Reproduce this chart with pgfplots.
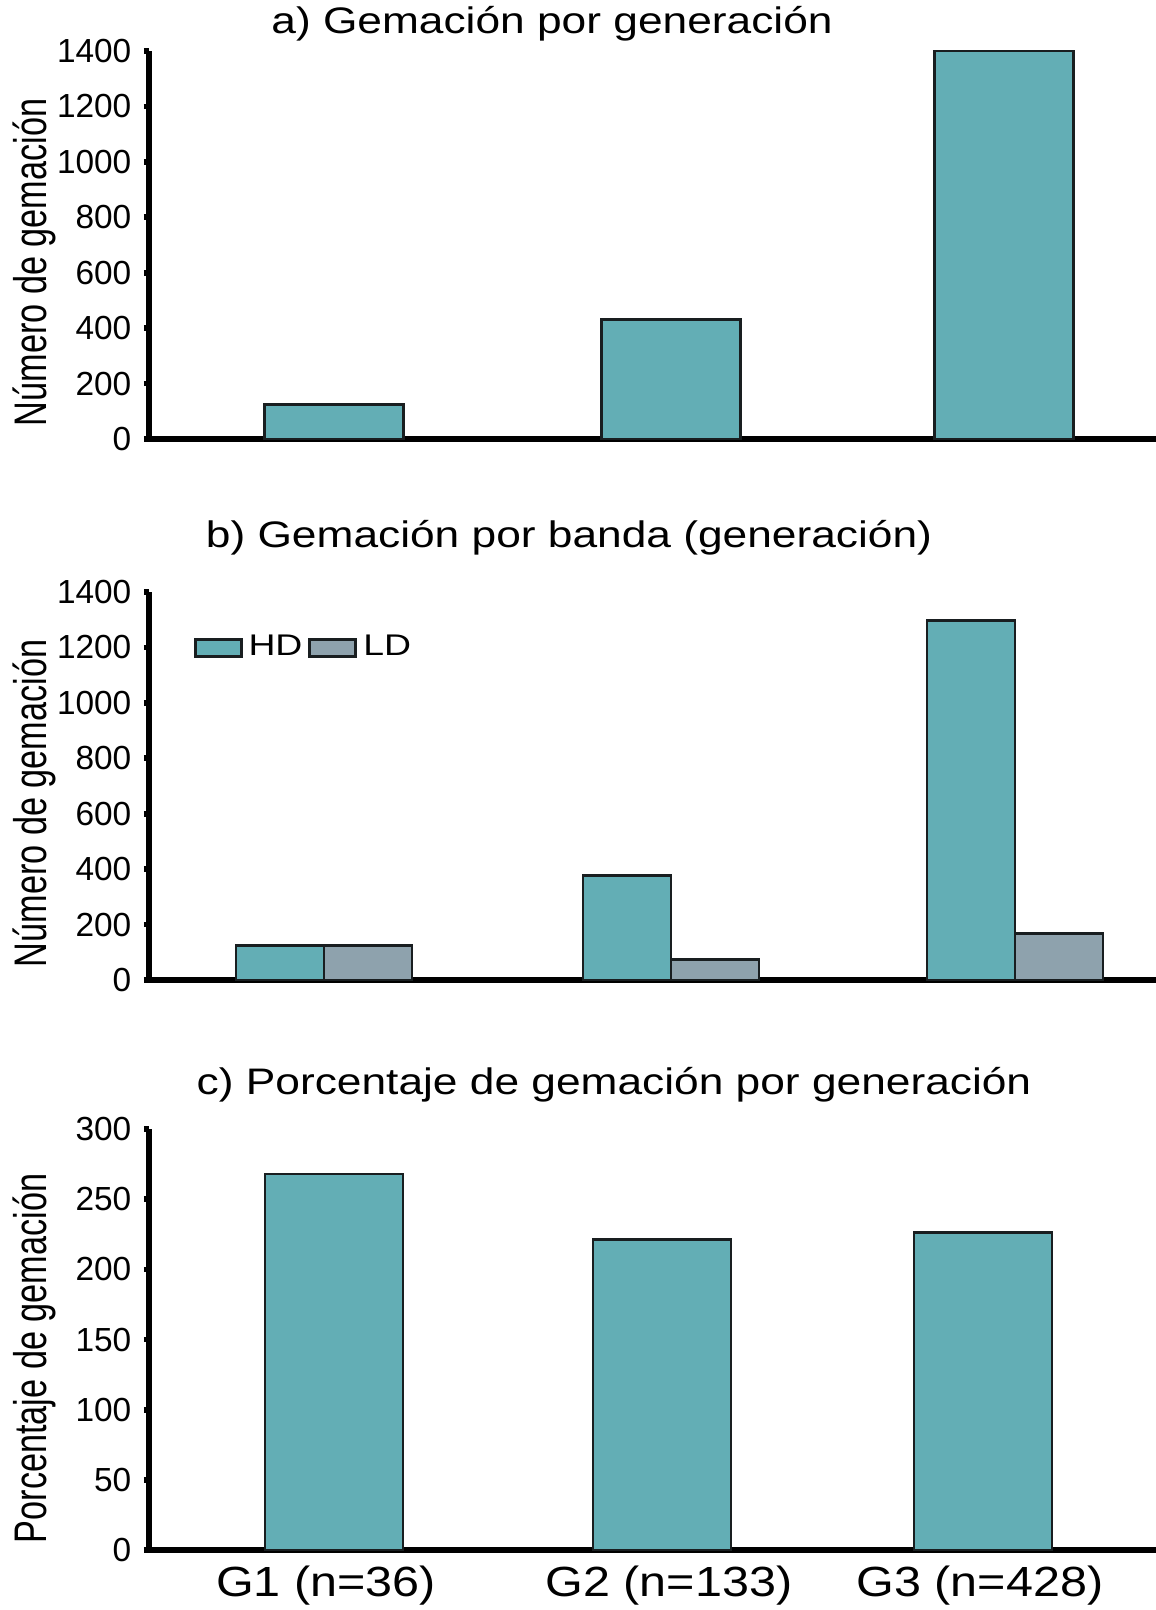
\documentclass[border=0pt]{standalone}
\usepackage{pgfplots}
\pgfplotsset{compat=1.18}
\usepackage{fontspec}
\setmainfont{Liberation Sans}
\newfontfamily\titlefont[FakeStretch=1.2]{Liberation Sans}
\newfontfamily\ylabfont[FakeStretch=0.75]{Liberation Sans}
\newfontfamily\legfont[FakeStretch=1.25]{Liberation Sans}
\newfontfamily\xlabfont[FakeStretch=1.15]{Liberation Sans}
\definecolor{tealc}{RGB}{99,174,181}
\definecolor{grayc}{RGB}{142,162,173}
\definecolor{edgec}{RGB}{25,30,32}

\pgfplotsset{
  panel/.style={
    scale only axis,
    width=10.07cm,
    xmin=149, xmax=1156,
    ymin=0,
    axis lines=left,
    axis line style={-, line width=1.7pt, black},
    tick align=outside,
    major tick length=0.05cm,
    tick style={line width=1.6pt, black},
    xtick=\empty,
    scaled y ticks=false,
    /pgf/number format/1000 sep={},
    /pgf/number format/assume math mode=true,
    yticklabel style={font=\fontsize{9.5}{11}\selectfont, inner sep=0pt, xshift=-0.12cm},
    every axis y label/.style={at={(axis description cs:-0.114,0.455)}, rotate=90, anchor=center, font=\ylabfont\fontsize{13}{15}\selectfont},
    clip=false,
  },
  barstyle/.style={draw=edgec, line width=0.8pt},
}

\begin{document}
\begin{tikzpicture}
\useasboundingbox (0,0) rectangle (11.56cm,-16.10cm);

% a)
\begin{axis}[panel, at={(1.49cm,-4.39cm)}, anchor=south west,
  height=3.88cm, ymax=1400, ytick={0,200,...,1400},
  ylabel={Número de gemación},
  ybar, bar width=1.39cm]
\addplot[barstyle, fill=tealc] coordinates {(334,125) (671,430) (1004,1400)};
\end{axis}

% b)
\begin{axis}[panel, at={(1.49cm,-9.80cm)}, anchor=south west,
  height=3.88cm, ymax=1400, ytick={0,200,...,1400},
  ylabel={Número de gemación},
  ybar=0pt, bar width=0.88cm,
  legend image code/.code={\draw[#1, line width=0.8pt] (0cm,-0.085cm) rectangle (0.46cm,0.085cm);},
  legend style={at={(axis cs:193,1198)}, anchor=west, draw=none, fill=none, inner sep=0pt,
    font=\legfont\fontsize{8.5}{9}\selectfont,
    legend columns=-1,
    nodes={inner sep=0.06cm},
    /tikz/every even column/.append style={column sep=0pt}},
  ]
\addplot[barstyle, fill=tealc] coordinates {(324,125) (671,378) (1015,1296)};
\addplot[barstyle, fill=grayc] coordinates {(324,125) (671,74) (1015,167)};
\legend{HD, LD}
\end{axis}

% c)
\begin{axis}[panel, at={(1.49cm,-15.50cm)}, anchor=south west,
  height=4.21cm, ymax=300, ytick={0,50,...,300},
  ylabel={Porcentaje de gemación},
  xtick={326,669,980},
  xticklabels={G1 (n=36), G2 (n=133), G3 (n=428)},
  major x tick style={draw=none},
  xticklabel style={font=\xlabfont\fontsize{12}{14}\selectfont, anchor=base, yshift=-0.41cm},
  ybar, bar width=1.38cm]
\addplot[barstyle, fill=tealc] coordinates {(334,268) (662,221) (983,226)};
\end{axis}

\node[anchor=base, font=\titlefont\fontsize{10.5}{12}\selectfont] at (5.52cm,-0.33cm) {a) Gemación por generación};
\node[anchor=base, font=\titlefont\fontsize{10.5}{12}\selectfont] at (5.69cm,-5.47cm) {b) Gemación por banda (generación)};
\node[anchor=base, font=\titlefont\fontsize{10.5}{12}\selectfont] at (6.14cm,-10.94cm) {c) Porcentaje de gemación por generación};
\end{tikzpicture}
\end{document}
